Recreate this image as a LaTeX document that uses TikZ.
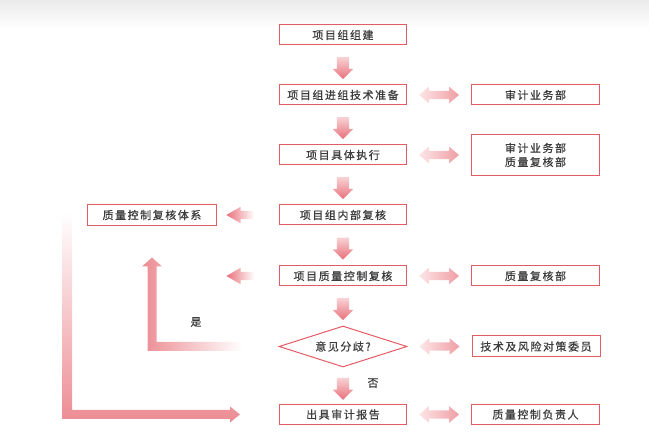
\documentclass[tikz,border=0pt]{standalone}
\usepackage{fontspec}
\setmainfont{Noto Sans CJK SC}[LetterSpace=14,FakeBold=0.6]
\usetikzlibrary{positioning,calc,shapes.geometric,shapes.arrows}
\definecolor{boxred}{HTML}{E55B65}
\definecolor{txtgray}{HTML}{3C3C3C}
\definecolor{arrdark}{HTML}{E8707A}
\definecolor{arrlight}{HTML}{F8D2D5}
\definecolor{dbdark}{HTML}{EF9EA4}
\definecolor{dblight}{HTML}{FCE6E7}
\definecolor{looppink}{HTML}{EC8C93}

\begin{document}
\begin{tikzpicture}[x=1pt,y=1pt,
  box/.style={draw=boxred,line width=1pt,minimum width=127pt,minimum height=20pt,inner sep=0pt,text=txtgray,font=\fontsize{11}{14}\selectfont,align=center},
  downarr/.style={single arrow,shape border rotate=270,minimum height=22pt,inner sep=6pt,single arrow head extend=4pt,draw=none,top color=arrlight,bottom color=arrdark},
  leftarr/.style={single arrow,shape border rotate=180,minimum height=28pt,inner sep=4pt,single arrow head extend=4pt,single arrow tip angle=60,draw=none,left color=arrdark,right color=white},
  botharr/.style={double arrow,minimum height=40pt,inner sep=4pt,double arrow head extend=4pt,double arrow tip angle=80,draw=none,left color=dblight,right color=dbdark},
  lbl/.style={text=txtgray,font=\fontsize{11}{14}\selectfont}]
\useasboundingbox (0,0) rectangle (649,-446);
% grey band at the top
\shade[top color=black!8,bottom color=white] (0,0) rectangle (649,-28);

% main column
\node[box] (b1) at (343,-35) {项目组组建};
\node[box] (b2) at (343,-95) {项目组进组技术准备};
\node[box] (b3) at (343,-155) {项目具体执行};
\node[box] (b4) at (343,-215) {项目组内部复核};
\node[box] (b5) at (343,-276) {项目质量控制复核};
\node[box,diamond,aspect=3,minimum width=128pt,minimum height=41pt] (dm) at (343,-346.5) {意见分歧?};
\node[box] (b7) at (343,-414.5) {出具审计报告};

% side boxes
\node[box,minimum width=128pt,right=64pt of b2] (r1) {审计业务部};
\node[box,minimum width=128pt,minimum height=41pt,right=64pt of b3] (r2) {审计业务部\\质量复核部};
\node[box,minimum width=128pt,right=64pt of b5] (r3) {质量复核部};
\node[box,minimum width=128pt,minimum height=21pt,right=64pt of dm] (r4) {技术及风险对策委员};
\node[box,minimum width=128pt,right=64pt of b7] (r5) {质量控制负责人};
\node[box,minimum width=129pt,minimum height=21pt,left=62pt of b4] (l) {质量控制复核体系};

\node[lbl] (yes) at (196,-322) {是};
\node[lbl] (no) at (373,-383) {否};

% arrows down
\node[downarr] (d1) at ($(b1.south)!0.5!(b2.north)$) {};
\node[downarr] (d2) at ($(b2.south)!0.5!(b3.north)$) {};
\node[downarr] (d3) at ($(b3.south)!0.5!(b4.north)$) {};
\node[downarr] (d4) at ($(b4.south)!0.5!(b5.north)$) {};
\node[downarr] (d5) at ($(b5.south)!0.5!(dm.north)$) {};
\node[downarr] (d6) at ($(dm.south)!0.5!(b7.north)$) {};

% arrows to the left
\node[leftarr] (la1) at ($(b4.west)+(-35,0)$) {};
\node[leftarr] (la2) at ($(b5.west)+(-35,0)$) {};

% arrows both ways
\node[botharr] (h1) at ($(b2.east)!0.5!(r1.west)$) {};
\node[botharr] (h2) at ($(b3.east)!0.5!(r2.west)$) {};
\node[botharr] (h3) at ($(b5.east)!0.5!(r3.west)$) {};
\node[botharr] (h4) at ($(dm.east)!0.5!(r4.west)$) {};
\node[botharr] (h5) at ($(b7.east)!0.5!(r5.west)$) {};

% yes loop
\coordinate (yesA) at ($(dm.west)+(-36,0)$);
\coordinate (yesC) at ($(l.center |- b5.north)+(0,8)$);
\shade[left color=looppink,middle color=looppink!80,right color=white]
 ($(yesA)+(0,4.5)$) -| ($(yesC)+(4.5,-9)$) -- ++(5.5,0) -- (yesC) -- ++(-10,-9) -- ++(5.5,0)
 |- ($(yesA)+(0,-4.5)$) -- cycle;

% big loop
\coordinate (loopA) at ($(l.west)+(-8,0)$);
\coordinate (loopC) at ($(b7.west)+(-39,0)$);
\shade[top color=white,bottom color=looppink]
 ($(loopA)+(0,2.5)$) -- ++(-17,0) |- ($(loopC)+(-10,-4.5)$) -- ++(0,-3.5) -- (loopC)
 -- ++(-10,8) -- ++(0,-3.5) -| ($(loopA)+(-7,-2.5)$) -- cycle;
\end{tikzpicture}
\end{document}
